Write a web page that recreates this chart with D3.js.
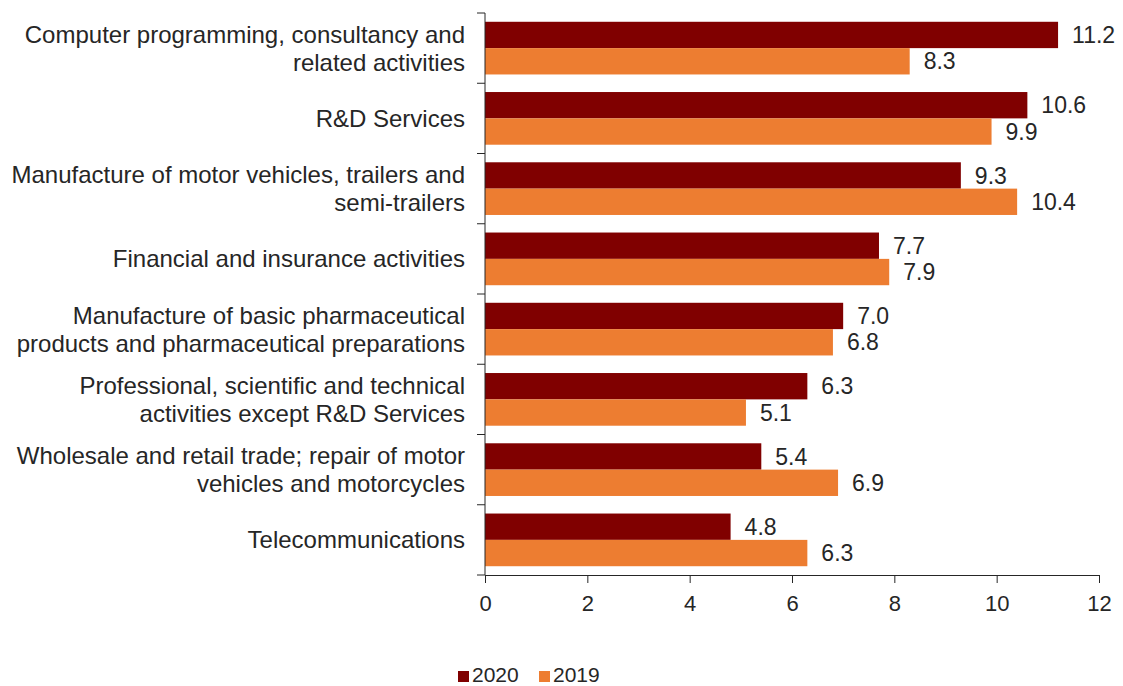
<!DOCTYPE html>
<html>
<head>
<meta charset="utf-8">
<script src="https://cdn.jsdelivr.net/npm/d3@7"></script>
<style>
  body { margin: 0; background: #fff; }
  text { font-family: "Liberation Sans", Arial, sans-serif; fill: #262626; }
</style>
</head>
<body>
<svg id="chart"></svg>
<script>
// data
const categories = [
  ["Computer programming, consultancy and", "related activities"],
  ["R&D Services"],
  ["Manufacture of motor vehicles, trailers and", "semi-trailers"],
  ["Financial and insurance activities"],
  ["Manufacture of basic pharmaceutical", "products and pharmaceutical preparations"],
  ["Professional, scientific and technical", "activities except R&D Services"],
  ["Wholesale and retail trade; repair of motor", "vehicles and motorcycles"],
  ["Telecommunications"]
];
const values2020 = [11.2, 10.6, 9.3, 7.7, 7.0, 6.3, 5.4, 4.8];
const values2019 = [8.3, 9.9, 10.4, 7.9, 6.8, 5.1, 6.9, 6.3];
const seriesNames = ["2020", "2019"];
const seriesColors = ["#800000", "#ED7D31"];
const xTicks = [0, 2, 4, 6, 8, 10, 12];

const W = 1123, H = 686;
const margin = {top: 13, right: 24, bottom: 111, left: 485};
const width = W - margin.left - margin.right;
const height = H - margin.top - margin.bottom;

const svg = d3.select('#chart').attr('width', W).attr('height', H);
const chart = svg.append('g').attr('transform', `translate(${margin.left}, ${margin.top})`);

const idx = d3.range(categories.length);
const yScale = d3.scaleBand().domain(idx).range([0, height]).paddingInner(0.25).paddingOuter(0.125);
const ySub = d3.scaleBand().domain(seriesNames).range([0, yScale.bandwidth()]);
const xScale = d3.scaleLinear().domain([0, 12]).range([0, width]);

// bars
const rows = idx.map(i => ({i, vals: [values2020[i], values2019[i]]}));
const groups = chart.selectAll('.row').data(rows).enter().append('g')
  .attr('class', 'row')
  .attr('transform', d => `translate(0, ${yScale(d.i)})`);

groups.each(function(d) {
  const g = d3.select(this);
  seriesNames.forEach((s, k) => {
    g.append('rect')
      .attr('x', xScale(0))
      .attr('y', ySub(s))
      .attr('width', xScale(d.vals[k]) - xScale(0))
      .attr('height', ySub.bandwidth())
      .attr('fill', seriesColors[k]);
    g.append('text')
      .attr('x', xScale(d.vals[k]) + 14)
      .attr('y', ySub(s) + ySub.bandwidth() / 2)
      .attr('dy', '0.35em')
      .attr('font-size', 23)
      .text(d.vals[k].toFixed(1));
  });
});

// x axis
const xAxis = d3.axisBottom(xScale).tickValues(xTicks).tickSize(8).tickSizeOuter(0).tickPadding(12);
const xg = chart.append('g').attr('transform', `translate(0, ${height})`).call(xAxis);
xg.select('.domain').attr('stroke', '#262626');
xg.selectAll('.tick line').attr('stroke', '#262626');
xg.selectAll('.tick text').attr('font-size', 22).attr('fill', '#262626')
  .style('font-family', '"Liberation Sans", Arial, sans-serif');

// y axis: line plus ticks at band boundaries
const step = yScale.step();
chart.append('line').attr('x1', 0).attr('x2', 0).attr('y1', 0).attr('y2', height).attr('stroke', '#262626');
chart.selectAll('.ytick').data(d3.range(categories.length + 1)).enter().append('line')
  .attr('x1', -8).attr('x2', 0)
  .attr('y1', d => d * step).attr('y2', d => d * step)
  .attr('stroke', '#262626');

// category labels
const labels = chart.selectAll('.cat').data(idx).enter().append('text')
  .attr('text-anchor', 'end')
  .attr('font-size', 24)
  .attr('y', i => yScale(i) + yScale.bandwidth() / 2);
labels.each(function(i) {
  const lines = categories[i];
  const t = d3.select(this);
  lines.forEach((ln, k) => {
    t.append('tspan')
      .attr('x', -20)
      .attr('y', yScale(i) + yScale.bandwidth() / 2 + (k - (lines.length - 1) / 2) * 28)
      .attr('dy', '0.35em')
      .text(ln);
  });
});

// legend
const legend = svg.append('g').attr('transform', 'translate(458, 682)');
const legX = [0, 81];
seriesNames.forEach((s, k) => {
  legend.append('rect').attr('x', legX[k]).attr('y', -11).attr('width', 11).attr('height', 11).attr('fill', seriesColors[k]);
  legend.append('text').attr('x', legX[k] + 14).attr('y', 0)
    .attr('font-size', 21).text(s);
});
</script>
</body>
</html>
